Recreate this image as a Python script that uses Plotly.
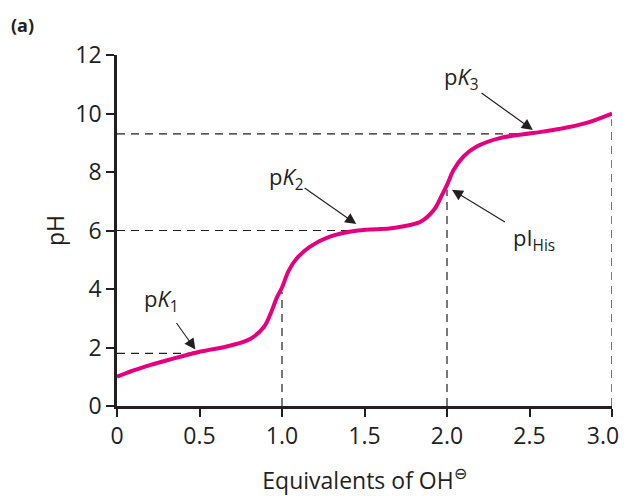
import plotly.graph_objects as go

# Titration curve of histidine
equivalents = [0.00, 0.10, 0.20, 0.32, 0.49, 0.69, 0.81, 0.89, 0.93, 0.97, 1.00,
               1.04, 1.09, 1.17, 1.29, 1.46, 1.65, 1.72, 1.84, 1.92, 1.97, 2.00,
               2.04, 2.10, 2.18, 2.32, 2.52, 2.68, 2.84, 3.00]
ph_values = [1.00, 1.22, 1.40, 1.59, 1.84, 2.07, 2.30, 2.70, 3.15, 3.72, 4.05,
             4.62, 5.05, 5.45, 5.79, 6.00, 6.07, 6.13, 6.30, 6.70, 7.22, 7.56,
             8.07, 8.53, 8.87, 9.16, 9.33, 9.47, 9.67, 10.00]

# Guide lines
pk_equiv = [0.5, 1.5, 2.5]
pk_values = [1.8, 6.0, 9.3]
endpoint_equiv = [1.0, 2.0, 3.0]
endpoint_ph = [3.9, 7.4, 9.8]

x_ticks = [0, 0.5, 1.0, 1.5, 2.0, 2.5, 3.0]
# last label padded with non-breaking spaces so it stays inside the page edge
x_tick_labels = ["0", "0.5", "1.0", "1.5", "2.0", "2.5", "3.0\u00a0\u00a0\u00a0"]
y_ticks = [0, 2, 4, 6, 8, 10, 12]

FONT = "Open Sans"
FS = 23
INK = "#231F20"
MAGENTA = "#E6007E"

fig = go.Figure()

# dashed guide lines
for xe, yp in zip(pk_equiv, pk_values):
    fig.add_trace(go.Scatter(x=[0, xe], y=[yp, yp], mode="lines",
                             line=dict(color=INK, width=1.2, dash="8px,6px"),
                             hoverinfo="skip", showlegend=False))
for xe, yp in zip(endpoint_equiv, endpoint_ph):
    fig.add_trace(go.Scatter(x=[xe, xe], y=[0, yp], mode="lines",
                             line=dict(color=INK, width=1.2, dash="8px,6px"),
                             hoverinfo="skip", showlegend=False))

# titration curve
fig.add_trace(go.Scatter(x=equivalents, y=ph_values, mode="lines",
                         line=dict(color=MAGENTA, width=4, shape="spline", smoothing=1.0),
                         cliponaxis=False, showlegend=False))

# labels
labels = [
    ("p<i>K</i><sub>1</sub>", 0.27, 3.62),
    ("p<i>K</i><sub>2</sub>", 1.03, 7.79),
    ("p<i>K</i><sub>3</sub>", 2.09, 11.2),
    ("pI<sub>His</sub>", 2.53, 5.7),
]
for txt, lx, ly in labels:
    fig.add_annotation(x=lx, y=ly, xref="x", yref="y", text=txt, showarrow=False,
                       font=dict(family=FONT, size=FS - 1, color=INK),
                       xanchor="center", yanchor="middle")

# arrows (tail -> tip)
arrows = [
    (0.354, 2.89, 0.475, 1.93),
    (1.128, 7.49, 1.45, 6.22),
    (2.20, 10.74, 2.52, 9.44),
    (2.36, 6.26, 2.03, 7.39),
]
for tx, ty, hx, hy in arrows:
    fig.add_annotation(x=hx, y=hy, ax=tx, ay=ty, xref="x", yref="y",
                       axref="x", ayref="y", text="", showarrow=True,
                       arrowhead=2, arrowsize=2.0, arrowwidth=1.1, arrowcolor=INK)

fig.add_annotation(xref="paper", yref="paper", x=-0.19, y=1.085,
                   text="<b>(a)</b>", showarrow=False,
                   xanchor="center", yanchor="middle",
                   font=dict(family=FONT, size=18, color=INK))

fig.update_layout(
    width=622, height=488,
    margin=dict(l=108.5, r=17.5, t=47, b=90, autoexpand=False),
    paper_bgcolor="white", plot_bgcolor="white",
    font=dict(family=FONT, size=FS, color=INK),
    xaxis=dict(range=[0, 3], tickvals=x_ticks, ticktext=x_tick_labels,
               automargin=False, ticklabeloverflow="allow",
               showgrid=False, zeroline=False, showline=True, linecolor=INK,
               linewidth=2.5, ticks="outside", ticklen=8, tickwidth=2, tickcolor=INK,
               tickfont=dict(family=FONT, size=FS, color=INK),
               title=dict(text="Equivalents of OH<sup>⊖</sup>", standoff=26,
                          font=dict(family=FONT, size=FS, color=INK))),
    yaxis=dict(range=[0, 12], tickvals=y_ticks,
               automargin=False,
               showgrid=False, zeroline=False, showline=True, linecolor=INK,
               linewidth=2.5, ticks="outside", ticklen=8, tickwidth=2, tickcolor=INK,
               tickfont=dict(family=FONT, size=FS, color=INK),
               title=dict(text="pH", standoff=5,
                          font=dict(family=FONT, size=FS, color=INK))),
)

fig.write_html("out.html")
